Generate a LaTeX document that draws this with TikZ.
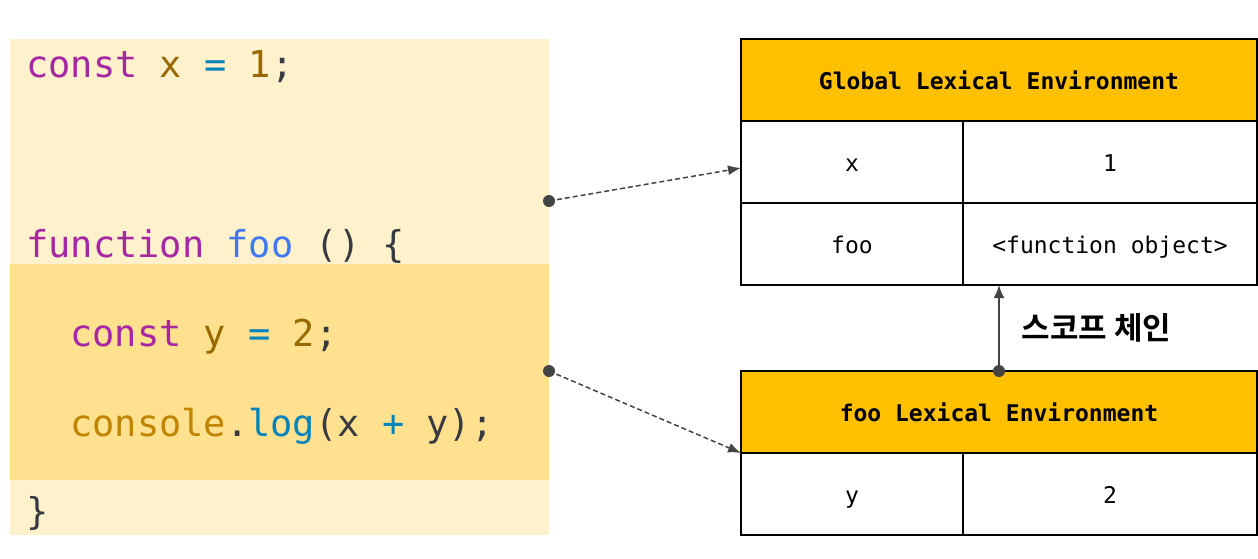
\documentclass[tikz,border=0pt]{standalone}
\usepackage{fontspec}
\setmonofont{DejaVu Sans Mono}
\newfontfamily\krfont{Noto Sans CJK KR}[BoldFont={Noto Sans CJK KR Bold}]
\usetikzlibrary{arrows.meta, positioning}

\definecolor{codebg}{HTML}{FFF1CC}
\definecolor{codehl}{HTML}{FFE18F}
\definecolor{envhead}{HTML}{FFC000}
\definecolor{kw}{HTML}{A626A4}
\definecolor{var}{HTML}{986801}
\definecolor{op}{HTML}{0184BC}
\definecolor{fn}{HTML}{4078F2}
\definecolor{punc}{HTML}{383A42}
\definecolor{obj}{HTML}{C18401}
\definecolor{linkgray}{HTML}{444444}

\begin{document}
\begin{tikzpicture}[
      x=1pt, y=-1pt,
      code/.style={anchor=base west, inner sep=0pt, font=\ttfamily\fontsize{37}{40}\selectfont, text=punc},
      envtitle/.style={rectangle, draw, line width=1.5pt, fill=envhead, minimum width=516pt, minimum height=82pt, outer sep=0pt, font=\ttfamily\bfseries\fontsize{23}{26}\selectfont},
      keycell/.style={rectangle, draw, line width=1.5pt, fill=white, minimum width=222pt, minimum height=82pt, outer sep=0pt, anchor=north west, text height=18pt, text depth=0pt, font=\ttfamily\fontsize{23}{26}\selectfont},
      valcell/.style={keycell, minimum width=294pt},
      reflink/.style={linkgray, line width=1.5pt, dash pattern=on 5pt off 3pt, -{Latex[length=13pt,width=10pt]}},
      chainlink/.style={linkgray, line width=2pt, -{Latex[length=13pt,width=11pt]}}
    ]
    \useasboundingbox (0,0) rectangle (1258,558);

    % code panel
    \fill [codebg] (10,39) rectangle (549,535);
    \fill [codehl] (10,264) rectangle (549,480);

    \node [code] (line1) at (26,77) {\textcolor{kw}{const} \textcolor{var}{x} \textcolor{op}{=} \textcolor{var}{1};};
    \node [code] (line2) at (26,257) {\textcolor{kw}{function} \textcolor{fn}{foo} () \{};
    \node [code] (line3) at (70,346) {\textcolor{kw}{const} \textcolor{var}{y} \textcolor{op}{=} \textcolor{var}{2};};
    \node [code] (line4) at (70,436) {\textcolor{obj}{console}.\textcolor{op}{log}(x \textcolor{op}{+} y);};
    \node [code] (line5) at (26,524) {\}};

    \coordinate (gdot) at (549,201);
    \coordinate (fdot) at (549,371);

    % global environment
    \node [envtitle] (ghead) at (999,80) {Global Lexical Environment};
    \node [keycell] (gx) at (ghead.south west) {x};
    \node [valcell] (gxval) at (gx.north east) {1};
    \node [keycell] (gfoo) at (gx.south west) {foo};
    \node [valcell] (gfooval) at (gfoo.north east) {<function object>};

    % foo environment
    \node [envtitle] (fhead) at (999,412) {foo Lexical Environment};
    \node [keycell] (fy) at (fhead.south west) {y};
    \node [valcell] (fyval) at (fy.north east) {2};

    \draw [reflink] (gdot) -- ([yshift=-6pt]gx.west);
    \draw [reflink] (fdot) -- (fhead.south west);
    \fill [linkgray] (gdot) circle (6);
    \fill [linkgray] (fdot) circle (6);

    \draw [chainlink] (fhead.north) -- (fhead.north |- gfooval.south);
    \fill [linkgray] (fhead.north) circle (6);
    \node [anchor=west, font=\krfont\bfseries\fontsize{31}{34}\selectfont] (chainlbl) at (1018,328) {스코프 체인};
  \end{tikzpicture}
\end{document}
